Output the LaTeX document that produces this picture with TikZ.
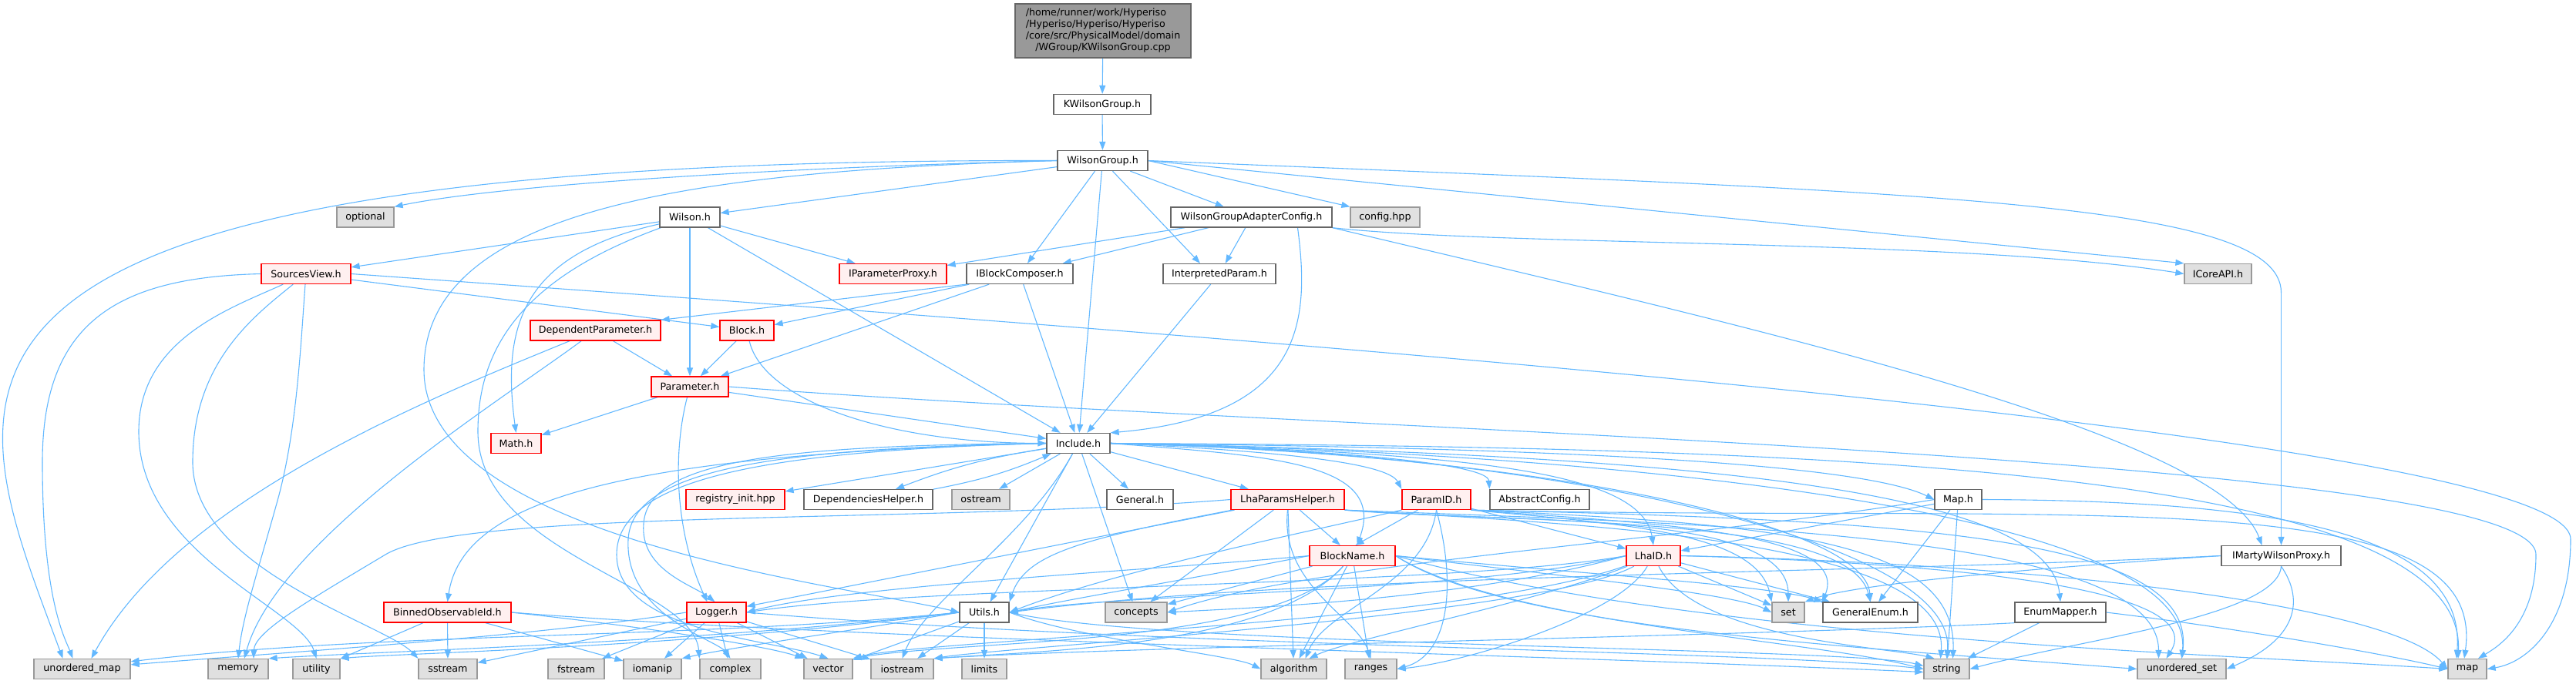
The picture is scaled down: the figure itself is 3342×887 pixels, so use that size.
\documentclass[tikz,border=0pt]{standalone}
\usepackage{fontspec}
\setmainfont{DejaVu Sans}
\usetikzlibrary{arrows.meta}
\definecolor{edgeblue}{HTML}{63B8FF}
\definecolor{redfill}{HTML}{FFF0F0}
\definecolor{redline}{HTML}{FF0000}
\definecolor{extfill}{HTML}{E0E0E0}
\definecolor{extline}{HTML}{999999}
\definecolor{whline}{HTML}{666666}
\definecolor{topfill}{HTML}{999999}
\newcommand{\dgfont}{\fontsize{12.7}{15}\selectfont}
\pgfdeclarelayer{bg}
\pgfsetlayers{bg,main}
\tikzset{
  box/.style={rectangle, minimum height=26pt, inner sep=0pt, line width=1.3pt, font=\dgfont, text=black},
  wnode/.style={box, draw=whline, fill=white},
  rnode/.style={box, draw=redline, fill=redfill},
  gnode/.style={box, draw=extline, fill=extfill},
  topnode/.style={box, draw=whline, fill=topfill},
  edgl/.style={draw=edgeblue, line width=1.1pt},
  edg/.style={edgl, -{Triangle[length=11pt,width=8pt]}}
}
\begin{document}
\begin{tikzpicture}[x=1pt,y=-1pt]
\useasboundingbox (0,0) rectangle (3342,887);
% ---------- nodes ----------
\node[topnode, minimum width=228pt, minimum height=70pt] (top) at (1431,40) {\begin{tabular}{@{}l@{}}/home/runner/work/Hyperiso\\/Hyperiso/Hyperiso/Hyperiso\\/core/src/PhysicalModel/domain\\\multicolumn{1}{@{}c@{}}{/WGroup/KWilsonGroup.cpp}\end{tabular}};
\node[wnode, minimum width=126pt] (kwg) at (1430,135.5) {KWilsonGroup.h};
\node[wnode, minimum width=117pt] (wg) at (1430.5,208.5) {WilsonGroup.h};
\node[gnode, minimum width=74pt] (opt) at (474,282) {optional};
\node[wnode, minimum width=78pt] (wil) at (895,282) {Wilson.h};
\node[wnode, minimum width=209pt] (wgac) at (1623.5,282) {WilsonGroupAdapterConfig.h};
\node[gnode, minimum width=90pt] (cfg) at (1797,282) {config.hpp};
\node[rnode, minimum width=116pt] (sv) at (397,355.5) {SourcesView.h};
\node[rnode, minimum width=139pt] (ipp) at (1158.5,355.5) {IParameterProxy.h};
\node[wnode, minimum width=138pt] (ibc) at (1323,355.5) {IBlockComposer.h};
\node[wnode, minimum width=146pt] (ip) at (1582,355.5) {InterpretedParam.h};
\node[gnode, minimum width=87pt] (icore) at (2877.5,355.5) {ICoreAPI.h};
\node[rnode, minimum width=169pt] (dp) at (772.5,429) {DependentParameter.h};
\node[rnode, minimum width=70pt] (blk) at (969,429) {Block.h};
\node[rnode, minimum width=100pt] (par) at (895,502) {Parameter.h};
\node[rnode, minimum width=65pt] (math) at (669.5,575.5) {Math.h};
\node[wnode, minimum width=82pt] (incl) at (1399,575.5) {Include.h};
\node[rnode, minimum width=128pt] (reg) at (954,648.5) {registry\_init.hpp};
\node[wnode, minimum width=167pt] (deph) at (1126.5,648.5) {DependenciesHelper.h};
\node[gnode, minimum width=75pt] (ostr) at (1272.5,648.5) {ostream};
\node[wnode, minimum width=86pt] (gen) at (1479,648.5) {General.h};
\node[rnode, minimum width=147pt] (lhaph) at (1670.5,648.5) {LhaParamsHelper.h};
\node[rnode, minimum width=89pt] (pid) at (1863.5,648.5) {ParamID.h};
\node[wnode, minimum width=129pt] (absc) at (1997.5,648.5) {AbstractConfig.h};
\node[wnode, minimum width=61pt] (mapH) at (2540.5,648.5) {Map.h};
\node[rnode, minimum width=111pt] (bn) at (1754.5,721.5) {BlockName.h};
\node[rnode, minimum width=70pt] (lid) at (2145,721.5) {LhaID.h};
\node[wnode, minimum width=155pt] (imarty) at (2959.5,721.5) {IMartyWilsonProxy.h};
\node[rnode, minimum width=165pt] (boid) at (580.5,795) {BinnedObservableId.h};
\node[rnode, minimum width=77pt] (logger) at (929.5,795) {Logger.h};
\node[wnode, minimum width=64pt] (utils) at (1277,795) {Utils.h};
\node[gnode, minimum width=80pt] (conc) at (1474,795) {concepts};
\node[gnode, minimum width=42pt] (sset) at (2320,795) {set};
\node[wnode, minimum width=123pt] (genum) at (2426.5,795) {GeneralEnum.h};
\node[wnode, minimum width=118pt] (emap) at (2673,795) {EnumMapper.h};
\node[gnode, minimum width=125pt] (umap) at (106.5,868.5) {unordered\_map};
\node[gnode, minimum width=78pt] (mem) at (309,868.5) {memory};
\node[gnode, minimum width=61pt] (util) at (410.5,868.5) {utility};
\node[gnode, minimum width=76pt] (sst) at (581,868.5) {sstream};
\node[gnode, minimum width=73pt] (fst) at (747.5,868.5) {fstream};
\node[gnode, minimum width=75pt] (iom) at (846.5,868.5) {iomanip};
\node[gnode, minimum width=79pt] (cplx) at (947.5,868.5) {complex};
\node[gnode, minimum width=63pt] (vec) at (1074.5,868.5) {vector};
\node[gnode, minimum width=81pt] (iostr) at (1170.5,868.5) {iostream};
\node[gnode, minimum width=58pt] (lim) at (1277,868.5) {limits};
\node[gnode, minimum width=85pt] (algo) at (1678.5,868.5) {algorithm};
\node[gnode, minimum width=67pt] (rng) at (1778.5,868.5) {ranges};
\node[gnode, minimum width=59pt] (str) at (2525.5,868.5) {string};
\node[gnode, minimum width=115pt] (uset) at (2830.5,868.5) {unordered\_set};
\node[gnode, minimum width=50pt] (mapn) at (3201,868.5) {map};
% waypoints of long connectors
\coordinate (wgu) at (550,480);
\coordinate (wgi) at (2959.5,380);
\coordinate (wcx) at (620,560);
\coordinate (svu) at (55,600);
\coordinate (svt) at (180,560);
\coordinate (svs) at (250,600);
\coordinate (svm) at (360,650);
\coordinate (svp) at (3335,700);
\coordinate (pmp) at (3290,720);
\coordinate (il1) at (835,680);
\coordinate (il2) at (815,700);
\coordinate (il3) at (800,720);
\coordinate (lm) at (500,720);
% ---------- edges ----------
\begin{pgfonlayer}{bg}
\draw[edg] (top) -- (kwg);
\draw[edg] (kwg) -- (wg);
% WilsonGroup
\draw[edg] (wg.west) .. controls (-200,205) and (-50,500) .. ([xshift=-25pt]umap.north);
\draw[edg] (wg.west) .. controls (1000,218) and (650,240) .. (opt.north east);
\draw[edgl] (wg.west) .. controls (900,222) and (550,270) .. (wgu);
\draw[edg] (wgu) .. controls (550,700) and (1100,760) .. (utils.west);
\draw[edg] (wg) -- (wil);
\draw[edg] (wg) -- (ibc);
\draw[edg] (wg) -- (incl);
\draw[edg] (wg) -- ([xshift=-25pt]ip.north);
\draw[edg] (wg) -- (wgac);
\draw[edg] (wg.east) -- (cfg.north west);
\draw[edg] (wg.east) -- (icore.north west);
\draw[edgl] (wg.east) .. controls (2500,250) and (2959.5,260) .. (wgi);
\draw[edg] (wgi) -- (imarty.north);
% WilsonGroupAdapterConfig
\draw[edg] (wgac) -- (ipp);
\draw[edg] (wgac) -- (ibc);
\draw[edg] (wgac) -- (ip);
\draw[edg] (wgac.south east) .. controls (1950,320) and (2550,310) .. (icore.west);
\draw[edg] (wgac.south east) .. controls (2250,420) and (2880,560) .. ([xshift=-25pt]imarty.north);
\draw[edg] ([xshift=60pt]wgac.south) .. controls (1700,420) and (1690,540) .. (incl.north east);
% Wilson
\draw[edg] (wil) -- (sv);
\draw[edg] (wil) -- (ipp);
\draw[edg] (wil) -- (par);
\draw[edg] (wil) -- (incl);
\draw[edg] (wil) .. controls (680,330) and (650,420) .. (math.north);
\draw[edgl] (wil) .. controls (680,360) and (620,450) .. (wcx);
\draw[edg] (wcx) .. controls (620,720) and (900,760) .. (cplx.north west);
% SourcesView
\draw[edg] (sv) -- (blk);
\draw[edgl] (sv.west) .. controls (150,360) and (55,420) .. (svu);
\draw[edg] (svu) .. controls (55,780) and (85,830) .. ([xshift=-12pt]umap.north);
\draw[edgl] (sv) .. controls (300,400) and (180,440) .. (svt);
\draw[edg] (svt) .. controls (180,720) and (390,790) .. (util.north);
\draw[edgl] (sv) .. controls (330,410) and (250,470) .. (svs);
\draw[edg] (svs) .. controls (250,740) and (500,810) .. (sst.north west);
\draw[edgl] (sv) .. controls (390,450) and (385,560) .. (svm);
\draw[edg] (svm) .. controls (335,740) and (315,800) .. (mem.north);
\draw[edgl] (sv.east) .. controls (1500,430) and (3335,560) .. (svp);
\draw[edg] (svp) .. controls (3335,810) and (3280,860) .. (mapn.east);
% DependentParameter
\draw[edg] (dp) -- (par);
\draw[edg] (dp) .. controls (550,520) and (230,650) .. ([xshift=12pt]umap.north);
\draw[edg] (dp) .. controls (650,520) and (360,700) .. ([xshift=8pt]mem.north);
% Block
\draw[edg] (blk) -- (par);
\draw[edg] (blk) .. controls (990,520) and (1150,575) .. (incl.west);
% IBlockComposer
\draw[edg] (ibc.south west) -- (dp.north east);
\draw[edg] (ibc) -- (blk);
\draw[edg] (ibc) -- (par);
\draw[edg] (ibc) -- (incl);
% InterpretedParam
\draw[edg] (ip) -- (incl);
% Parameter
\draw[edg] (par) -- (math);
\draw[edg] (par) .. controls (870,600) and (880,700) .. ([xshift=-12pt]logger.north);
\draw[edg] (par) -- (incl);
\draw[edgl] (par.east) .. controls (1700,560) and (3290,590) .. (pmp);
\draw[edg] (pmp) .. controls (3290,810) and (3240,840) .. ([xshift=14pt]mapn.north);
% Include
\draw[edg] (incl) -- (reg);
\draw[edg] (incl) to[bend right=6] (deph);
\draw[edg] (deph) to[bend right=6] (incl);
\draw[edg] (incl) -- (ostr);
\draw[edg] (incl) -- (gen);
\draw[edg] (incl) -- (lhaph);
\draw[edg] (incl) -- (utils);
\draw[edg] (incl) -- (conc);
\draw[edg] (incl.east) .. controls (1650,585) and (1800,600) .. (pid.north west);
\draw[edg] (incl.east) .. controls (1700,582) and (1930,600) .. (absc.north west);
\draw[edg] (incl.east) .. controls (1900,580) and (2400,595) .. (mapH.west);
\draw[edg] (incl.east) .. controls (1900,588) and (2130,610) .. (lid.north);
\draw[edg] (incl.east) .. controls (1650,592) and (1800,600) .. ([xshift=6pt]bn.north);
\draw[edg] (incl.east) .. controls (2300,592) and (2660,650) .. (emap.north);
\draw[edg] (incl.east) .. controls (2000,590) and (2420,680) .. (genum.north);
\draw[edg] (incl.east) .. controls (2000,585) and (2540,700) .. (str.north);
\draw[edg] (incl.east) .. controls (2000,585) and (2850,650) .. (uset.north);
\draw[edg] (incl.east) .. controls (2300,580) and (3200,600) .. ([xshift=-12pt]mapn.north);
\draw[edg] (incl.west) .. controls (800,590) and (600,650) .. (boid.north);
\draw[edgl] (incl.west) .. controls (1000,578) and (840,600) .. (il1);
\draw[edg] (il1) .. controls (830,740) and (900,760) .. ([xshift=-2pt]logger.north);
\draw[edgl] (incl.west) .. controls (1000,582) and (820,610) .. (il2);
\draw[edg] (il2) .. controls (810,800) and (930,830) .. (cplx.north);
\draw[edgl] (incl.west) .. controls (1000,585) and (800,620) .. (il3);
\draw[edg] (il3) .. controls (800,820) and (1000,830) .. (vec.north);
\draw[edg] (incl) .. controls (1330,700) and (1200,780) .. (iostr.north);
% LhaParamsHelper
\draw[edg] (lhaph) -- (bn);
\draw[edg] (lhaph) -- (logger);
\draw[edg] (lhaph) .. controls (1400,700) and (1330,720) .. (utils.north east);
\draw[edg] (lhaph) -- (conc);
\draw[edgl] (lhaph.west) .. controls (1200,680) and (600,660) .. (lm);
\draw[edg] (lm) .. controls (400,780) and (330,820) .. ([xshift=20pt]mem.north);
\draw[edg] (lhaph) -- (algo);
\draw[edg] (lhaph.south) .. controls (1660,760) and (1760,800) .. (rng.north);
\draw[edg] (lhaph.south east) .. controls (1950,680) and (2320,660) .. (sset.north);
\draw[edg] (lhaph.south east) .. controls (2000,680) and (2400,670) .. (genum.north);
\draw[edg] (lhaph.south east) .. controls (2050,680) and (2530,700) .. ([xshift=-8pt]str.north);
\draw[edg] (lhaph.south east) .. controls (2200,680) and (2800,690) .. ([xshift=-30pt]uset.north);
% ParamID
\draw[edg] (pid) -- ([xshift=4pt]bn.north);
\draw[edg] (pid) -- (lid);
\draw[edg] (pid.south) .. controls (1890,760) and (1880,850) .. (rng.east);
\draw[edg] (pid.south) .. controls (1850,760) and (1720,790) .. ([xshift=15pt]algo.north);
\draw[edg] (pid.south east) .. controls (2100,680) and (2280,690) .. (sset.north west);
\draw[edg] (pid.south east) .. controls (2150,680) and (2400,690) .. (genum.north west);
\draw[edg] (pid.south east) .. controls (2300,680) and (2540,700) .. ([xshift=8pt]str.north);
\draw[edg] (pid.south east) .. controls (2500,675) and (2850,700) .. (uset.north);
\draw[edg] (pid.south east) .. controls (2700,680) and (3230,620) .. ([xshift=-4pt]mapn.north);
\draw[edg] (pid.south west) .. controls (1700,690) and (1450,740) .. (utils.east);
% Map
\draw[edg] (mapH) -- (lid);
\draw[edg] (mapH) -- (genum);
\draw[edg] (mapH) -- (str);
\draw[edg] (mapH.east) .. controls (2950,650) and (3200,690) .. ([xshift=-14pt]mapn.north);
\draw[edg] (mapH.west) .. controls (2200,700) and (1700,730) .. (conc.east);
% BlockName
\draw[edg] (bn) -- (algo);
\draw[edg] (bn) -- (rng);
\draw[edg] (bn.west) .. controls (1500,740) and (1100,760) .. (logger.east);
\draw[edg] (bn.west) .. controls (1500,760) and (1400,775) .. (utils.east);
\draw[edg] (bn) -- (conc);
\draw[edg] (bn.east) .. controls (2000,745) and (2250,770) .. (sset.west);
\draw[edg] (bn.east) .. controls (2050,745) and (2300,760) .. (genum.north west);
\draw[edg] (bn.east) .. controls (1950,810) and (2350,830) .. (str.west);
\draw[edg] (bn.east) .. controls (1950,815) and (2400,840) .. (uset.west);
\draw[edg] (bn.east) .. controls (2200,830) and (2900,850) .. (mapn.west);
\draw[edg] (bn) .. controls (1650,840) and (1350,845) .. (iostr.north east);
\draw[edg] (bn) .. controls (1650,840) and (1250,830) .. (vec.north east);
% LhaID
\draw[edg] (lid.west) .. controls (1900,760) and (1200,760) .. (logger.east);
\draw[edg] (lid.west) .. controls (1900,770) and (1450,770) .. (utils.east);
\draw[edg] (lid.west) .. controls (1900,780) and (1600,790) .. (conc.east);
\draw[edg] (lid) -- (sset);
\draw[edg] (lid) -- (genum);
\draw[edg] (lid) .. controls (2100,800) and (1900,860) .. (rng.east);
\draw[edg] (lid) .. controls (2000,780) and (1750,830) .. ([xshift=20pt]algo.north);
\draw[edg] (lid) .. controls (2200,830) and (2450,840) .. ([xshift=-16pt]str.north);
\draw[edg] (lid.east) .. controls (2500,730) and (2870,760) .. ([xshift=-20pt]uset.north);
\draw[edg] (lid.east) .. controls (2600,730) and (3100,780) .. (mapn.west);
\draw[edg] (lid) .. controls (2000,800) and (1300,840) .. (iostr.north east);
\draw[edg] (lid) .. controls (1900,810) and (1200,830) .. (vec.north east);
% IMartyWilsonProxy
\draw[edg] (imarty.west) .. controls (2600,740) and (2400,760) .. (sset.north east);
\draw[edg] (imarty.west) .. controls (2400,745) and (1700,745) .. (utils.east);
\draw[edg] (imarty.south) .. controls (2990,780) and (2980,830) .. (uset.east);
\draw[edg] (imarty.south) .. controls (2955,800) and (2700,830) .. (str.east);
% EnumMapper
\draw[edg] (emap) -- (str);
\draw[edg] (emap.east) .. controls (2900,815) and (3100,850) .. (mapn.west);
\draw[edg] (emap.south west) .. controls (2300,825) and (1450,840) .. (iostr.north east);
% Utils
\draw[edg] (utils) -- (lim);
\draw[edg] (utils) -- (iostr);
\draw[edg] (utils) -- (vec);
\draw[edg] (utils.west) .. controls (900,830) and (500,820) .. ([yshift=-4pt]umap.north east);
\draw[edg] (utils.west) .. controls (900,835) and (500,845) .. (mem.north east);
\draw[edg] (utils.west) .. controls (900,840) and (520,848) .. (util.north east);
\draw[edg] (utils.west) .. controls (1100,820) and (950,840) .. (iom.north east);
\draw[edg] (utils.east) .. controls (1500,840) and (2400,840) .. ([yshift=4pt]str.west);
\draw[edg] (utils.east) .. controls (1400,830) and (1600,850) .. (algo.west);
% Logger
\draw[edg] (logger) -- (sst);
\draw[edg] (logger) -- (fst);
\draw[edg] (logger) -- (iom);
\draw[edg] (logger) -- (cplx);
\draw[edg] (logger) -- (vec);
\draw[edg] (logger) -- (iostr);
\draw[edg] (logger.west) .. controls (700,825) and (400,845) .. ([yshift=-8pt]umap.north east);
\draw[edg] (logger.east) .. controls (1500,840) and (2300,845) .. (str.west);
% BinnedObservableId
\draw[edg] (boid) -- (sst);
\draw[edg] (boid) -- (util);
\draw[edg] (boid) -- (iom);
\draw[edg] (boid.east) .. controls (850,815) and (1000,840) .. (vec.north west);
\draw[edg] (boid.east) .. controls (1100,830) and (2000,850) .. ([yshift=-4pt]str.west);
\end{pgfonlayer}
\end{tikzpicture}
\end{document}
